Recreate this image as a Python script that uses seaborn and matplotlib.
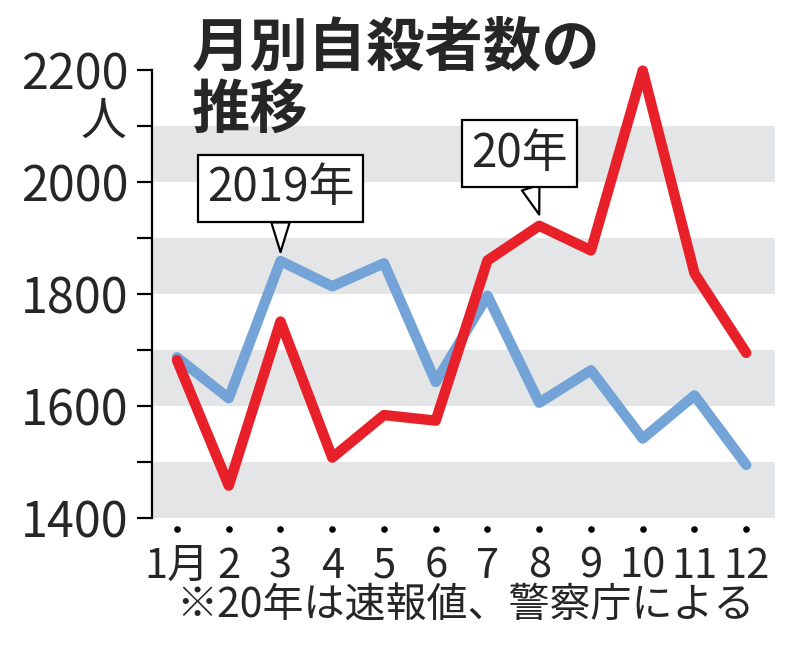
import numpy as np
import pandas as pd
import matplotlib.pyplot as plt
import seaborn as sns

months = list(range(1, 13))
month_labels = ['1月', '2', '3', '4', '5', '6', '7', '8', '9', '10', '11', '12']
deaths_2019 = [1687, 1614, 1859, 1814, 1855, 1643, 1797, 1606, 1664, 1542, 1619, 1495]
deaths_2020 = [1682, 1458, 1751, 1508, 1584, 1574, 1860, 1922, 1878, 2199, 1837, 1695]

df = pd.DataFrame({
    '月': months * 2,
    '人数': deaths_2019 + deaths_2020,
    '年': ['2019'] * 12 + ['2020'] * 12,
})

sns.set_style('white')
plt.rcParams['font.family'] = ['Noto Sans CJK JP', 'DejaVu Sans']

fig = plt.figure(figsize=(8, 6.46), dpi=100)
ax = fig.add_axes([0.19, 0.198, 0.779, 0.6935])

# 灰色の帯
for lo in range(1400, 2200, 200):
    ax.axhspan(lo, lo + 100, color='#e4e5e6', lw=0, zorder=0)

sns.lineplot(
    data=df, x='月', y='人数', hue='年',
    palette={'2019': '#74a3d8', '2020': '#e8202a'},
    linewidth=7.5, legend=False, ax=ax,
    solid_capstyle='round', solid_joinstyle='round', clip_on=False,
)

ax.set_xlim(0.517, 12.56)
ax.set_ylim(1400, 2200)

for s in ['top', 'right', 'bottom']:
    ax.spines[s].set_visible(False)
ax.spines['left'].set_color('black')
ax.spines['left'].set_linewidth(1.6)

ax.set_yticks(range(1400, 2201, 200))
ax.set_yticks(range(1500, 2200, 200), minor=True)
ax.tick_params(axis='y', which='both', direction='out', length=10.8,
               width=1.6, color='black', pad=6, labelsize=35, left=True)

ax.set_xticks(months)
ax.set_xticklabels(month_labels)
ax.tick_params(axis='x', length=0, pad=20, labelsize=30)
ax.set_xlabel('')
ax.set_ylabel('')

# 月の点
ax.scatter(months, [-0.025] * 12, transform=ax.get_xaxis_transform(),
           s=14, color='black', clip_on=False, zorder=5)

# 吹き出し
box = dict(boxstyle='square,pad=0.2', fc='white', ec='black', lw=1.6)
ax.annotate('2019年', xy=(3, deaths_2019[2] + 16), xytext=(0, 46),
            textcoords='offset points', ha='center', va='center',
            fontsize=33, bbox=box,
            arrowprops=dict(arrowstyle='wedge,tail_width=0.4', fc='white',
                            ec='black', lw=1.6, shrinkA=0, shrinkB=0))
ax.annotate('20年', xy=(8, deaths_2020[7] + 20), xytext=(-14, 44),
            textcoords='offset points', ha='center', va='center',
            fontsize=33, bbox=box,
            arrowprops=dict(arrowstyle='wedge,tail_width=0.4', fc='white',
                            ec='black', lw=1.6, shrinkA=0, shrinkB=0))

fig.text(192 / 800, 1 - 18 / 646, '月別自殺者数の\n推移', ha='left', va='top',
         fontsize=42, fontweight='bold', linespacing=1.05)
fig.text(103 / 800, 1 - 121 / 646, '人', ha='center', va='center', fontsize=33)
fig.text(465 / 800, 1 - 606 / 646, '※20年は速報値、警察庁による',
         ha='center', va='center', fontsize=29.5)

fig.savefig('out.png', dpi=100)
